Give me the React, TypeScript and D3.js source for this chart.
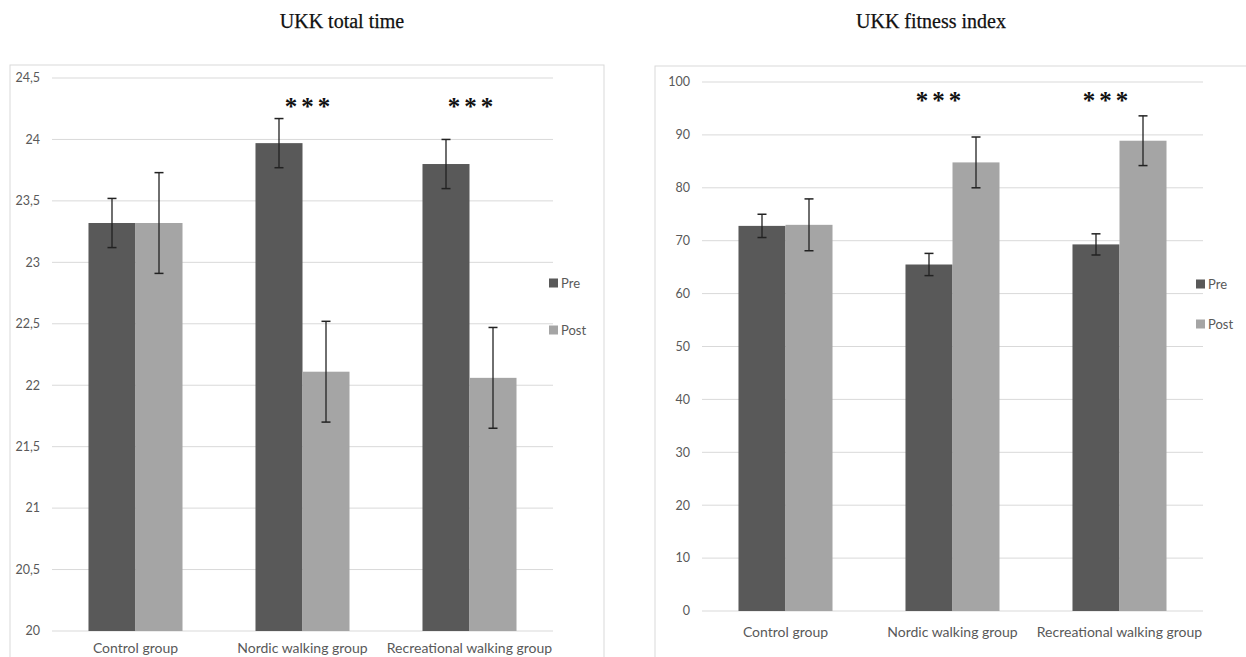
import React from "react";
import * as d3 from "d3";

const categories = ["Control group", "Nordic walking group", "Recreational walking group"];
const series = ["Pre", "Post"];
const colors = ["#595959", "#a5a5a5"];

// UKK total time
const timePre = [23.32, 23.97, 23.8];
const timePost = [23.32, 22.11, 22.06];
const timePreErr = [0.2, 0.2, 0.2];
const timePostErr = [0.41, 0.41, 0.41];
const timeTicks = [20, 20.5, 21, 21.5, 22, 22.5, 23, 23.5, 24, 24.5];
const timeTickLabels = ["20", "20,5", "21", "21,5", "22", "22,5", "23", "23,5", "24", "24,5"];

// UKK fitness index
const fitPre = [72.8, 65.5, 69.3];
const fitPost = [73.0, 84.8, 88.9];
const fitPreErr = [2.2, 2.1, 2.0];
const fitPostErr = [4.9, 4.8, 4.7];
const fitTicks = [0, 10, 20, 30, 40, 50, 60, 70, 80, 90, 100];
const fitTickLabels = fitTicks.map(String);

const significance = ["", "***", "***"];

type PanelProps = {
  title: string;
  titleX: number;
  box: [number, number, number, number];
  xRange: [number, number];
  yDomain: [number, number];
  yRange: [number, number];
  ticks: number[];
  tickLabels: string[];
  pre: number[];
  post: number[];
  preErr: number[];
  postErr: number[];
  labelY: number;
  starY: number;
  starDx: number[];
  legendX: number;
  legendY: [number, number];
};

function Panel(p: PanelProps) {
  const x = d3
    .scaleBand<string>()
    .domain(categories)
    .range(p.xRange)
    .paddingInner(0.437)
    .paddingOuter(0.2185);
  const xs = d3.scaleBand<string>().domain(series).range([0, x.bandwidth()]);
  const y = d3.scaleLinear().domain(p.yDomain).range(p.yRange);
  const vals = [p.pre, p.post];
  const errs = [p.preErr, p.postErr];
  const font = "Lato, 'Open Sans', sans-serif";
  return (
    <g>
      <rect x={p.box[0]} y={p.box[1]} width={p.box[2]} height={p.box[3]} fill="#fff" stroke="#d9d9d9" strokeWidth={1} />
      <text x={p.titleX} y={28} textAnchor="middle" fontFamily="'Liberation Serif', 'Times New Roman', serif" fontSize={20} fill="#111" stroke="#111" strokeWidth={0.25}>
        {p.title}
      </text>
      {p.ticks.map((t, i) => (
        <g key={t}>
          <line x1={p.xRange[0]} x2={p.xRange[1]} y1={y(t)} y2={y(t)} stroke="#d9d9d9" strokeWidth={1} />
          <text x={p.xRange[0] - 12} y={y(t)} dy="0.35em" textAnchor="end" fontFamily={font} fontSize={12.5} fill="#595959">
            {p.tickLabels[i]}
          </text>
        </g>
      ))}
      {categories.map((c, ci) => (
        <g key={c}>
          {series.map((s, si) => {
            const bx = (x(c) as number) + (xs(s) as number);
            const v = vals[si][ci];
            const e = errs[si][ci];
            const cx = bx + xs.bandwidth() / 2;
            return (
              <g key={s}>
                <rect x={bx} y={y(v)} width={xs.bandwidth()} height={y(p.yDomain[0]) - y(v)} fill={colors[si]} />
                <line x1={cx} x2={cx} y1={y(v - e)} y2={y(v + e)} stroke="#222" strokeWidth={1.3} />
                <line x1={cx - 4.5} x2={cx + 4.5} y1={y(v - e)} y2={y(v - e)} stroke="#222" strokeWidth={1.5} />
                <line x1={cx - 4.5} x2={cx + 4.5} y1={y(v + e)} y2={y(v + e)} stroke="#222" strokeWidth={1.5} />
              </g>
            );
          })}
          <text x={(x(c) as number) + x.bandwidth() / 2} y={p.labelY} dy="0.35em" textAnchor="middle" fontFamily={font} fontSize={14} fill="#595959">
            {c}
          </text>
          {significance[ci] && (
            <text
              x={(x(c) as number) + x.bandwidth() / 2 + p.starDx[ci]}
              y={p.starY + 12}
              textAnchor="middle"
              fontFamily="'Liberation Serif', serif"
              fontWeight="bold"
              fontSize={25}
              letterSpacing={4}
              fill="#111"
            >
              {significance[ci]}
            </text>
          )}
        </g>
      ))}
      {series.map((s, si) => (
        <g key={s}>
          <rect x={p.legendX} y={p.legendY[si] - 4.5} width={9} height={9} fill={colors[si]} />
          <text x={p.legendX + 12} y={p.legendY[si]} dy="0.35em" fontFamily={font} fontSize={13} fill="#595959">
            {s}
          </text>
        </g>
      ))}
    </g>
  );
}

export default function App() {
  return (
    <svg width={1246} height={657} style={{ position: "absolute", left: 0, top: 0, background: "#fff" }}>
      <rect x={0} y={0} width={1246} height={657} fill="#fff" />
      <Panel
        title="UKK total time"
        titleX={342}
        box={[10, 65, 594, 620]}
        xRange={[52, 553]}
        yDomain={[20, 24.5]}
        yRange={[631, 78]}
        ticks={timeTicks}
        tickLabels={timeTickLabels}
        pre={timePre}
        post={timePost}
        preErr={timePreErr}
        postErr={timePostErr}
        labelY={648}
        starY={103}
        starDx={[0, 7, 3]}
        legendX={549}
        legendY={[283, 330]}
      />
      <Panel
        title="UKK fitness index"
        titleX={931}
        box={[655, 66, 620, 620]}
        xRange={[702, 1203]}
        yDomain={[0, 100]}
        yRange={[611, 82]}
        ticks={fitTicks}
        tickLabels={fitTickLabels}
        pre={fitPre}
        post={fitPost}
        preErr={fitPreErr}
        postErr={fitPostErr}
        labelY={632}
        starY={97}
        starDx={[0, -12, -12]}
        legendX={1196}
        legendY={[284, 324]}
      />
    </svg>
  );
}
